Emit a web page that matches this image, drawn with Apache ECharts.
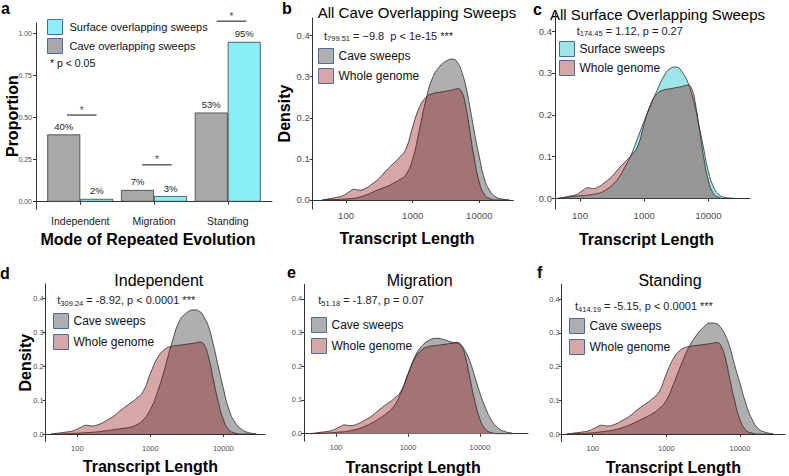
<!DOCTYPE html>
<html><head><meta charset="utf-8">
<script src="https://cdn.jsdelivr.net/npm/echarts@6/dist/echarts.min.js"></script>
<style>html,body{margin:0;padding:0;background:#fff}#chart{width:789px;height:476px}</style>
</head><body><div id="chart"></div>
<script>
// ---------- data ----------
const modes = ['Independent', 'Migration', 'Standing'];
const modePos = [1, 2, 3];
const caveProportion = [0.40, 0.07, 0.53];
const surfaceProportion = [0.017, 0.034, 0.95];
const sigCenter = [1.02, 2.04, 3.05];
const sigLineY = [0.515, 0.219, 1.073];
const sigStarY = [0.545, 0.249, 1.103];
const proportionTicks = [0, 0.25, 0.5, 0.75, 1];
const densityTicks = [0, 0.1, 0.2, 0.3, 0.4];
const lengthTicks = [100, 1000, 10000];

const transcriptLength = [44, 56, 71, 89, 112, 132, 158, 200, 251, 316, 398, 501, 631, 794, 1000, 1259, 1585, 1995, 2512, 3162, 3981, 4786, 5495, 6310, 7244, 8318, 10000, 12023, 14454, 17783, 22387, 28184];
const wholeGenome = [0, 0.003, 0.006, 0.010, 0.020, 0.026, 0.024, 0.029, 0.040, 0.053, 0.071, 0.087, 0.103, 0.125, 0.178, 0.225, 0.250, 0.259, 0.262, 0.265, 0.268, 0.271, 0.262, 0.225, 0.165, 0.105, 0.043, 0.012, 0.003, 0, 0, 0];
const caveAll = [0, 0.001, 0.001, 0.002, 0.003, 0.004, 0.007, 0.012, 0.019, 0.026, 0.032, 0.040, 0.049, 0.062, 0.100, 0.170, 0.245, 0.298, 0.324, 0.338, 0.343, 0.333, 0.310, 0.275, 0.225, 0.170, 0.105, 0.050, 0.022, 0.007, 0.002, 0];
const surfaceAll = [0, 0.002, 0.004, 0.006, 0.007, 0.008, 0.010, 0.013, 0.020, 0.032, 0.049, 0.075, 0.105, 0.145, 0.185, 0.222, 0.258, 0.290, 0.310, 0.314, 0.300, 0.278, 0.250, 0.215, 0.170, 0.125, 0.065, 0.028, 0.010, 0.003, 0.001, 0];
const caveIndependent = [0, 0, 0.001, 0.002, 0.003, 0.004, 0.005, 0.007, 0.010, 0.013, 0.016, 0.019, 0.026, 0.041, 0.072, 0.125, 0.195, 0.272, 0.333, 0.358, 0.366, 0.361, 0.343, 0.315, 0.267, 0.210, 0.135, 0.070, 0.035, 0.014, 0.004, 0.001];
const caveMigration = [0, 0.001, 0.002, 0.003, 0.005, 0.006, 0.009, 0.014, 0.022, 0.032, 0.045, 0.060, 0.080, 0.120, 0.175, 0.230, 0.262, 0.278, 0.283, 0.279, 0.272, 0.268, 0.262, 0.243, 0.215, 0.175, 0.120, 0.075, 0.040, 0.017, 0.006, 0.002];
const caveStanding = [0, 0.001, 0.002, 0.003, 0.005, 0.007, 0.009, 0.013, 0.019, 0.027, 0.037, 0.048, 0.059, 0.075, 0.100, 0.150, 0.205, 0.255, 0.290, 0.315, 0.329, 0.327, 0.315, 0.293, 0.259, 0.210, 0.150, 0.090, 0.045, 0.016, 0.005, 0.001];

// ---------- style ----------
const FONT = '"Liberation Sans", Arial, Helvetica, sans-serif';
const AX = '#333333';
const TICKCOL = '#4d4d4d';
const GRAY = '#afafaf';
const PINK = 'rgba(138,11,11,0.36)';
const CYAN = 'rgba(10,190,195,0.4)';
const KEYBORDER = '#4a6aa5';

const grids = [], xAxes = [], yAxes = [], series = [], legends = [], graphics = [];

// ---------- panel a ----------
grids.push({left: 36, top: 23, width: 236, height: 186.3});
xAxes.push({
  gridIndex: 0, type: 'value', min: 0.4, max: 3.6, splitLine: {show: false},
  axisLine: {lineStyle: {color: AX, width: 1}},
  axisTick: {customValues: modePos, length: 3, lineStyle: {color: AX}},
  axisLabel: {customValues: modePos, formatter: v => modes[modePos.indexOf(Math.round(v))] || '',
    fontSize: 10.5, color: '#1a1a1a', margin: 6, fontFamily: FONT},
  name: 'Mode of Repeated Evolution', nameLocation: 'middle', nameGap: 21.7, nameMoveOverlap: false,
  nameTextStyle: {fontSize: 16, fontWeight: 'bold', color: '#000', fontFamily: FONT, padding: [0, 12, 0, 0]}
});
yAxes.push({
  gridIndex: 0, type: 'value', min: -0.045, max: 1.062, splitLine: {show: false},
  axisLine: {lineStyle: {color: AX, width: 1}},
  axisTick: {customValues: proportionTicks, length: 3, lineStyle: {color: AX}},
  axisLabel: {customValues: proportionTicks, formatter: v => v.toFixed(2), fontSize: 7, color: TICKCOL, margin: 4, fontFamily: FONT},
  name: 'Proportion', nameLocation: 'middle', nameGap: 16, nameMoveOverlap: false,
  nameTextStyle: {fontSize: 16, fontWeight: 'bold', color: '#000', fontFamily: FONT}
});
const barLabel = {show: true, position: 'top', distance: 3, formatter: p => Math.round(p.value[1] * 100) + '%',
  fontSize: 9.5, color: '#222', fontFamily: FONT};
series.push({type: 'bar', name: 'Cave overlapping sweeps', xAxisIndex: 0, yAxisIndex: 0, barWidth: 33, barGap: '0%',
  data: modePos.map((p, i) => [p, caveProportion[i]]),
  itemStyle: {color: '#a8a8a8', borderColor: '#3c3c3c', borderWidth: 0.8}, label: barLabel});
series.push({type: 'bar', name: 'Surface overlapping sweeps', xAxisIndex: 0, yAxisIndex: 0, barWidth: 33, barGap: '0%',
  data: modePos.map((p, i) => [p, surfaceProportion[i]]),
  itemStyle: {color: '#88eef8', borderColor: '#3c3c3c', borderWidth: 0.8}, label: barLabel});
sigCenter.forEach((c, i) => series.push({type: 'line', xAxisIndex: 0, yAxisIndex: 0, silent: true, clip: false,
  data: [[c - 0.2, sigLineY[i]], [c + 0.2, sigLineY[i]]], symbol: 'none', lineStyle: {color: '#111', width: 1}}));
series.push({type: 'scatter', xAxisIndex: 0, yAxisIndex: 0, silent: true, clip: false,
  data: sigCenter.map((c, i) => [c, sigStarY[i]]), symbolSize: 1, itemStyle: {color: 'rgba(0,0,0,0)'},
  label: {show: true, position: 'inside', formatter: '*', fontSize: 10, color: '#111', fontFamily: FONT}});
legends.push({left: 47, top: 19, orient: 'vertical', padding: 0, itemWidth: 15, itemHeight: 15, itemGap: 3,
  icon: 'rect', selectedMode: false,
  data: [{name: 'Surface overlapping sweeps', itemStyle: {color: '#8eeefa'}}, {name: 'Cave overlapping sweeps', itemStyle: {color: '#a8a8a8'}}],
  itemStyle: {borderColor: KEYBORDER, borderWidth: 1},
  textStyle: {fontSize: 11, color: '#111', fontFamily: FONT, padding: [0, 0, 0, 2], lineHeight: 15}});

// ---------- density panels ----------
const panels = [
  {grid: {left: 312.7, top: 18, width: 200.6, height: 191}, xr: [31.6, 32359], yr: [-0.022, 0.443], tf: 9.5, xm: 1.5, ym: 3,
   density: 20.7, xng: 21.7, xpad: 12, first: {name: 'Cave sweeps', vals: caveAll, color: GRAY},
   legend: {left: 318, top: 48, gap: 4}},
  {grid: {left: 555, top: 13, width: 195, height: 196}, xr: [40.8, 44566], yr: [-0.025, 0.443], tf: 9.5, xm: 1.5, ym: 3,
   density: null, xng: 22, xpad: 12, first: {name: 'Surface sweeps', vals: surfaceAll, color: CYAN},
   legend: {left: 559, top: 41, gap: 3}},
  {grid: {left: 45.7, top: 283.8, width: 219.3, height: 157.7}, xr: [36.9, 37239], yr: [-0.022, 0.443], tf: 7.5, xm: 2.5, ym: 2,
   density: 12.7, xng: 17.2, xpad: 10, first: {name: 'Cave sweeps', vals: caveIndependent, color: GRAY},
   legend: {left: 53, top: 313, gap: 5}},
  {grid: {left: 304.3, top: 284.4, width: 223.7, height: 156.7}, xr: [36.3, 46452], yr: [-0.022, 0.443], tf: 7.5, xm: 2.5, ym: 2,
   density: null, xng: 17.9, xpad: 6, first: {name: 'Cave sweeps', vals: caveMigration, color: GRAY},
   legend: {left: 311, top: 317, gap: 5}},
  {grid: {left: 561.7, top: 284.5, width: 223.3, height: 157}, xr: [37.9, 40832], yr: [-0.022, 0.443], tf: 7.5, xm: 2.5, ym: 2,
   density: null, xng: 17.5, xpad: 0, first: {name: 'Cave sweeps', vals: caveStanding, color: GRAY},
   legend: {left: 569, top: 318, gap: 5}}
];

panels.forEach((p, k) => {
  const gi = k + 1;
  grids.push(p.grid);
  xAxes.push({
    gridIndex: gi, type: 'log', logBase: 10, min: p.xr[0], max: p.xr[1], splitLine: {show: false}, minorTick: {show: false},
    axisLine: {lineStyle: {color: AX, width: 1}},
    axisTick: {customValues: lengthTicks, length: 3, lineStyle: {color: AX}},
    axisLabel: {customValues: lengthTicks, formatter: v => String(Math.round(v)), fontSize: p.tf, color: TICKCOL, margin: p.xm, fontFamily: FONT},
    name: 'Transcript Length', nameLocation: 'middle', nameGap: p.xng, nameMoveOverlap: false,
    nameTextStyle: {fontSize: 16, fontWeight: 'bold', color: '#000', fontFamily: FONT, padding: [0, p.xpad, 0, 0]}
  });
  const ya = {
    gridIndex: gi, type: 'value', min: p.yr[0], max: p.yr[1], splitLine: {show: false},
    axisLine: {lineStyle: {color: AX, width: 1}},
    axisTick: {customValues: densityTicks, length: 3, lineStyle: {color: AX}},
    axisLabel: {customValues: densityTicks, formatter: v => v.toFixed(1), fontSize: p.tf, color: TICKCOL, margin: p.ym, fontFamily: FONT}
  };
  if (p.density !== null) {
    Object.assign(ya, {name: 'Density', nameLocation: 'middle', nameGap: p.density, nameMoveOverlap: false,
      nameTextStyle: {fontSize: 16, fontWeight: 'bold', color: '#000', fontFamily: FONT}});
  }
  yAxes.push(ya);
  const mk = (name, vals, color, z) => ({
    type: 'line', name, xAxisIndex: gi, yAxisIndex: gi, z, silent: true,
    data: transcriptLength.map((x, i) => [x, vals[i]]),
    smooth: 0.5, symbol: 'none',
    lineStyle: {color: '#2a2a2a', width: 0.8},
    itemStyle: {color}, areaStyle: {color, opacity: 1}
  });
  series.push(mk(p.first.name, p.first.vals, p.first.color, 2));
  series.push(mk('Whole genome', wholeGenome, PINK, 3));
  legends.push({left: p.legend.left, top: p.legend.top, orient: 'vertical', padding: 0, itemWidth: 15, itemHeight: 15,
    itemGap: p.legend.gap, icon: 'rect', selectedMode: false,
    data: [{name: p.first.name, itemStyle: {color: p.first.color}}, {name: 'Whole genome', itemStyle: {color: PINK}}],
    itemStyle: {borderColor: KEYBORDER, borderWidth: 1},
    textStyle: {fontSize: 12, color: '#111', fontFamily: FONT, lineHeight: 15}});
});

// ---------- texts ----------
const letters = [['a', 1, 8], ['b', 282, 8], ['c', 533, 9], ['d', 0, 273], ['e', 287, 272], ['f', 537, 272]];
letters.forEach(l => graphics.push({type: 'text', x: l[1], y: l[2], silent: true,
  style: {text: l[0], fill: '#000', fontSize: 16, fontWeight: 'bold', fontFamily: FONT, align: 'left', verticalAlign: 'middle'}}));

const titles = [['All Cave Overlapping Sweeps', 417, 12.7, 15], ['All Surface Overlapping Sweeps', 657.5, 14, 15],
  ['Independent', 158.8, 280, 16], ['Migration', 419.7, 280, 16], ['Standing', 670, 280, 16]];
titles.forEach(t => graphics.push({type: 'text', x: t[1], y: t[2], silent: true,
  style: {text: t[0], fill: '#000', fontSize: t[3], fontFamily: FONT, align: 'center', verticalAlign: 'middle'}}));

const rich = {m: {fontSize: 11, lineHeight: 14, fill: '#222', fontFamily: FONT},
              s: {fontSize: 7.5, lineHeight: 7, verticalAlign: 'bottom', fill: '#222', fontFamily: FONT}};
const stats = [['799.51', ' = \u22129.8  p < 1e-15 ***', 324, 35.7], ['174.45', ' = 1.12, p = 0.27', 576.7, 30.7],
  ['309.24', ' = -8.92, p < 0.0001 ***', 57.3, 300], ['51.18', ' = -1.87, p = 0.07', 318.3, 300],
  ['414.19', ' = -5.15, p < 0.0001 ***', 575, 306]];
stats.forEach(s => graphics.push({type: 'text', x: s[2], y: s[3], silent: true,
  style: {text: '{m|t}{s|' + s[0] + '}{m|' + s[1] + '}', rich, align: 'left', verticalAlign: 'middle'}}));

graphics.push({type: 'text', x: 50, y: 63, silent: true,
  style: {text: '* p < 0.05', fill: '#111', fontSize: 10.5, fontFamily: FONT, align: 'left', verticalAlign: 'middle'}});

const chart = echarts.init(document.getElementById('chart'), null, {renderer: 'svg', width: 789, height: 476});
chart.setOption({
  animation: false, backgroundColor: '#fff',
  textStyle: {fontFamily: FONT},
  grid: grids, xAxis: xAxes, yAxis: yAxes, series, legend: legends, graphic: graphics
});
</script></body></html>
